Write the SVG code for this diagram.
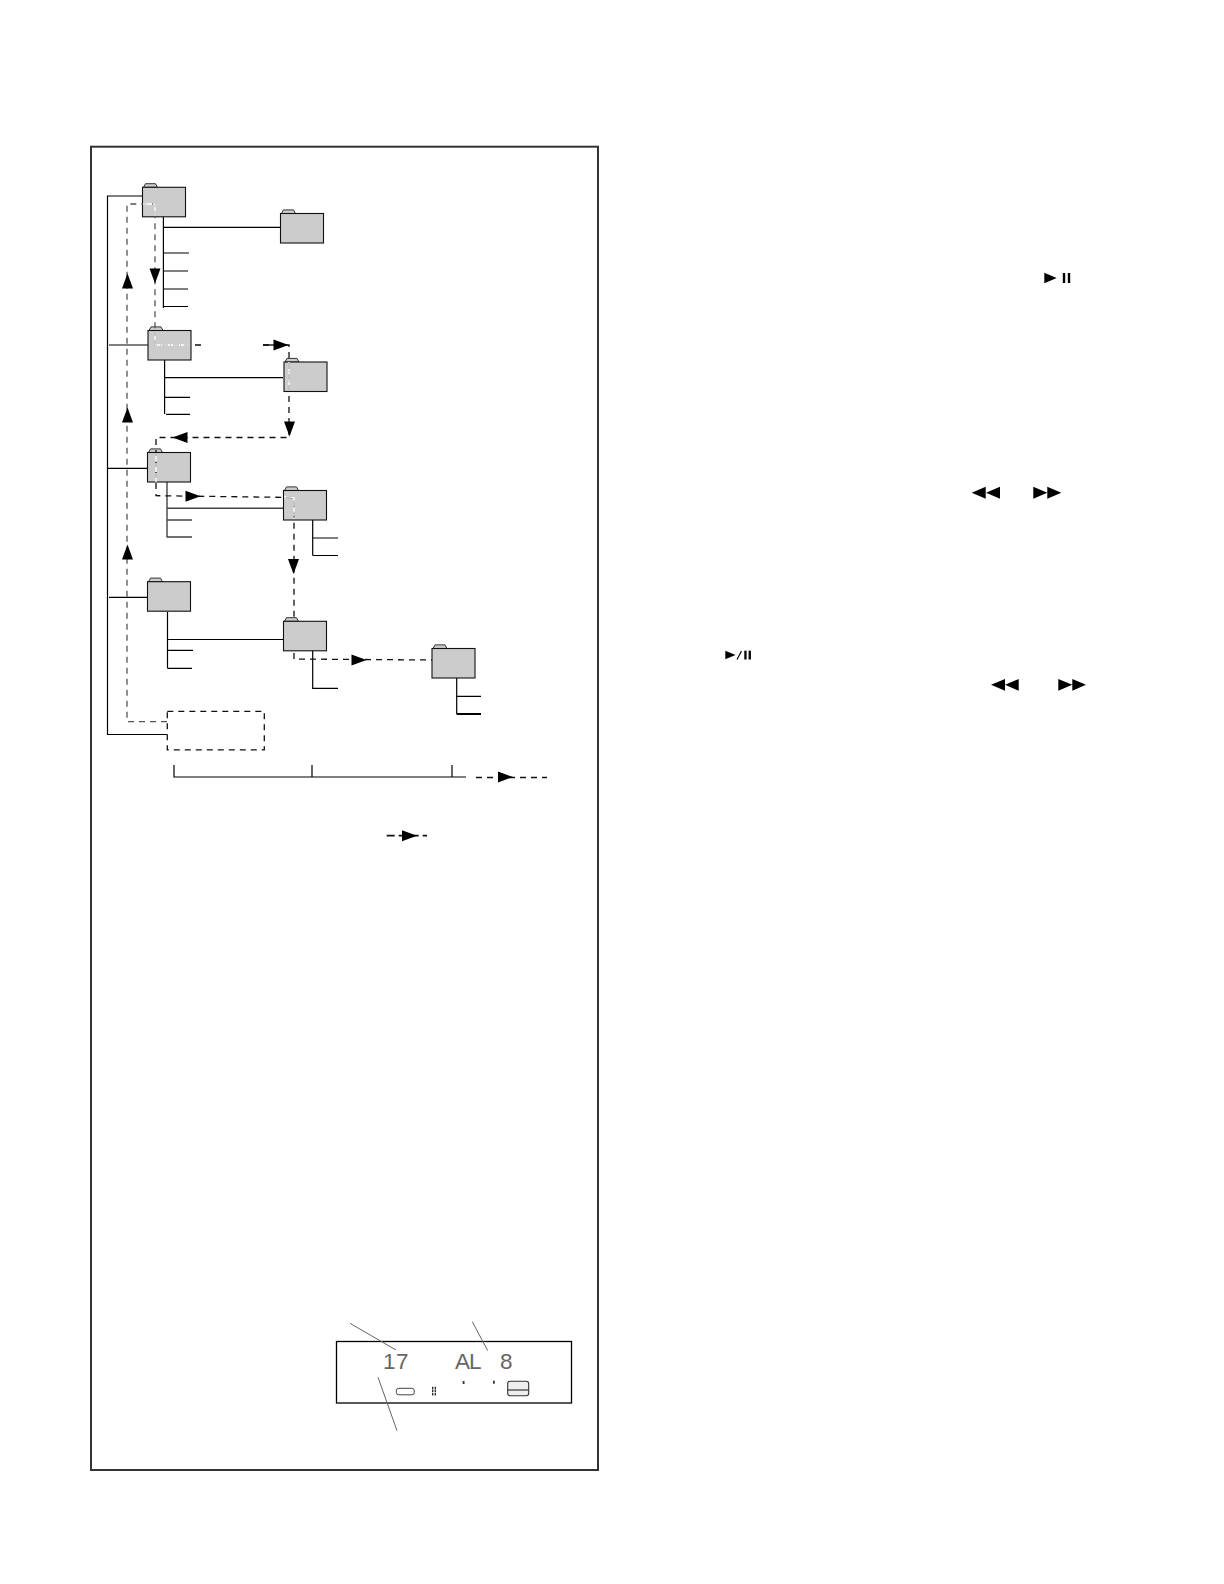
<svg xmlns="http://www.w3.org/2000/svg" xmlns:xlink="http://www.w3.org/1999/xlink" width="1224" height="1584" viewBox="0 0 1224 1584">
<style>
.tree{fill:none;stroke:#000;stroke-width:1.2}
.folder{fill:#ccc;stroke:#111;stroke-width:1.1}
.tab{fill:#ccc;stroke:#333;stroke-width:1}
.dash{fill:none;stroke:#111;stroke-width:1.3;stroke-dasharray:6 5}
.dashg{fill:none;stroke:#555;stroke-width:1.3;stroke-dasharray:6 5}
.wd{fill:none;stroke:#fff;stroke-width:1.3;stroke-dasharray:9 1}
.leader{fill:none;stroke:#666;stroke-width:1}
.lcd{font-family:"Liberation Sans",Arial,sans-serif;font-size:22.5px;fill:#666;font-weight:normal}
.arr{fill:#000;stroke:none}
</style>
<defs>
<g id="fold"><path class="tab" d="M1 0 L3 -3.6 L13 -3.6 L15 0 Z"/><rect class="folder" x="0" y="0" width="43" height="29.5"/></g>
<path id="ar" class="arr" d="M-7.5 -5.5 L7.5 0 L-7.5 5.5 Z"/>
</defs>
<rect x="91" y="146.7" width="507" height="1323.3" fill="none" stroke="#333" stroke-width="2"/>

<g id="connectors-tree">
<path class="tree" d="M142 196H107.5V734.5H167"/>
<path class="tree" d="M163.4 216V308M163.4 227.3H281M163.4 253H189M163.4 271H188M163.4 289H188M163.4 306.5H188"/>
<path class="tree" d="M109 345H149M164.6 360V414M164.6 377.7H283M164.6 397.3H190M166 414.3H190"/>
<path class="tree" d="M107.5 468.3H147.5"/>
<path class="tree" style="stroke:#444;stroke-width:1.4" d="M167 482V537.5M167 508.3H284M167 520H192M167 537H192"/>
<path class="tree" d="M312.7 519V555.5M312.7 538H338M312.7 555.5H338"/>
<path class="tree" d="M109 597.3H148M167.5 612V668.3M167.5 639.5H284M167.5 650.3H193M167.5 668.3H192"/>
<path class="tree" d="M312.7 650V688.3H338"/>
<path class="tree" d="M456.7 678V714M456.7 696.3H481"/>
<path class="tree" style="stroke-width:2" d="M456.7 714H481"/>
<path class="tree" d="M174 765V777H466M312 765V777M452 765V777"/>
</g>

<g id="folder1"><use xlink:href="#fold" href="#fold" x="142.5" y="187.3"/></g>
<g id="folder2"><use xlink:href="#fold" href="#fold" x="280.5" y="213.5"/></g>
<g id="folder3"><use xlink:href="#fold" href="#fold" x="148" y="330.5"/></g>
<g id="folder4"><use xlink:href="#fold" href="#fold" x="284" y="362"/></g>
<g id="folder5"><use xlink:href="#fold" href="#fold" x="147.5" y="452.5"/></g>
<g id="folder6"><use xlink:href="#fold" href="#fold" x="283.5" y="490.5"/></g>
<g id="folder7"><use xlink:href="#fold" href="#fold" x="147.5" y="581.7"/></g>
<g id="folder8"><use xlink:href="#fold" href="#fold" x="283.5" y="621.3"/></g>
<g id="folder9"><use xlink:href="#fold" href="#fold" x="432" y="648.5"/></g>
<g id="dashed-box"><rect class="dash" x="167.3" y="711.3" width="97" height="38.5"/></g>

<g id="connectors-dashed">
<path class="dashg" d="M167 721.7H127V204H155V330"/>
<path class="dash" d="M155 330V345H202M263 345H289V437.5H156V495.7L294 497.5V617M294 653V659L432 660"/>
<path class="dash" d="M476 777.5H547"/>
<path class="dash" style="stroke-width:1.8;stroke-dasharray:8 4" d="M386.7 835.7H427"/>
<path class="wd" d="M143 204H155V216M155 331V345H190M289 362V391M156 453V482M284 496.8L294 497.5V519"/>
<use xlink:href="#ar" href="#ar" transform="translate(127.5 281) rotate(-90)"/>
<use xlink:href="#ar" href="#ar" transform="translate(127.5 415) rotate(-90)"/>
<use xlink:href="#ar" href="#ar" transform="translate(127.5 552) rotate(-90)"/>
<use xlink:href="#ar" href="#ar" transform="translate(155 276) rotate(90)"/>
<use xlink:href="#ar" href="#ar" transform="translate(281 345)"/>
<path d="M263 345H278" stroke="#000" stroke-width="1.3"/>
<use xlink:href="#ar" href="#ar" transform="translate(289.5 429) rotate(90)"/>
<use xlink:href="#ar" href="#ar" transform="translate(180 437.5) rotate(180)"/>
<use xlink:href="#ar" href="#ar" transform="translate(193 496.3)"/>
<use xlink:href="#ar" href="#ar" transform="translate(293.5 566.5) rotate(90)"/>
<use xlink:href="#ar" href="#ar" transform="translate(359 660)"/>
<use xlink:href="#ar" href="#ar" transform="translate(505.5 777)"/>
<use xlink:href="#ar" href="#ar" transform="translate(409.5 835.7)"/>
</g>

<g id="display">
<rect x="336.5" y="1341.5" width="235" height="61.5" fill="none" stroke="#000" stroke-width="1.3"/>
<path class="leader" d="M350 1323.3L396 1350M472.3 1321.7L487.7 1350.7M378 1377.3L397 1430.7"/>
<text class="lcd" x="383 396" y="1369">17</text>
<text class="lcd" x="455 469" y="1369">AL</text>
<text class="lcd" x="500" y="1369">8</text>
<rect x="396.3" y="1388.3" width="18" height="6.5" rx="2.5" fill="none" stroke="#444" stroke-width="1"/>
<path d="M432.7 1386.7V1396M435.3 1386.7V1396" stroke="#222" stroke-width="1.3" fill="none" stroke-dasharray="2.5 .6"/>
<rect x="462.7" y="1381" width="1.8" height="3" fill="#333"/>
<rect x="493" y="1380.7" width="1.8" height="3" fill="#333"/>
<rect x="507.7" y="1381.3" width="21" height="14.4" rx="2.5" fill="#eee" stroke="#333" stroke-width="1.1"/>
<path d="M508 1390H528.5" stroke="#111" stroke-width="1"/>
</g>

<g id="symbols" fill="#000">
<path d="M1044.3 272.7L1056.7 278L1044.3 283.3Z"/><rect x="1062.8" y="273" width="2.4" height="10"/><rect x="1067.8" y="273" width="2.4" height="10"/>
<path d="M985.7 486.7L971.7 492.7L985.7 498.7ZM1000 486.7L986 492.7L1000 498.7Z"/>
<path d="M1033.3 486.7L1047.3 492.7L1033.3 498.7ZM1047.3 486.7L1061.3 492.7L1047.3 498.7Z"/>
<path d="M725.3 650.7L735.5 655L725.3 659.3Z"/><path d="M737 659.5L741.5 651" stroke="#000" stroke-width="1.2"/><rect x="744.3" y="650.7" width="2.3" height="8.8"/><rect x="748.6" y="650.7" width="2.3" height="8.8"/>
<path d="M1005 679L991 684.8L1005 690.7ZM1018.7 679L1005 684.8L1018.7 690.7Z"/>
<path d="M1058.3 679L1072.3 684.8L1058.3 690.7ZM1072.3 679L1086 684.8L1072.3 690.7Z"/>
</g>
</svg>
